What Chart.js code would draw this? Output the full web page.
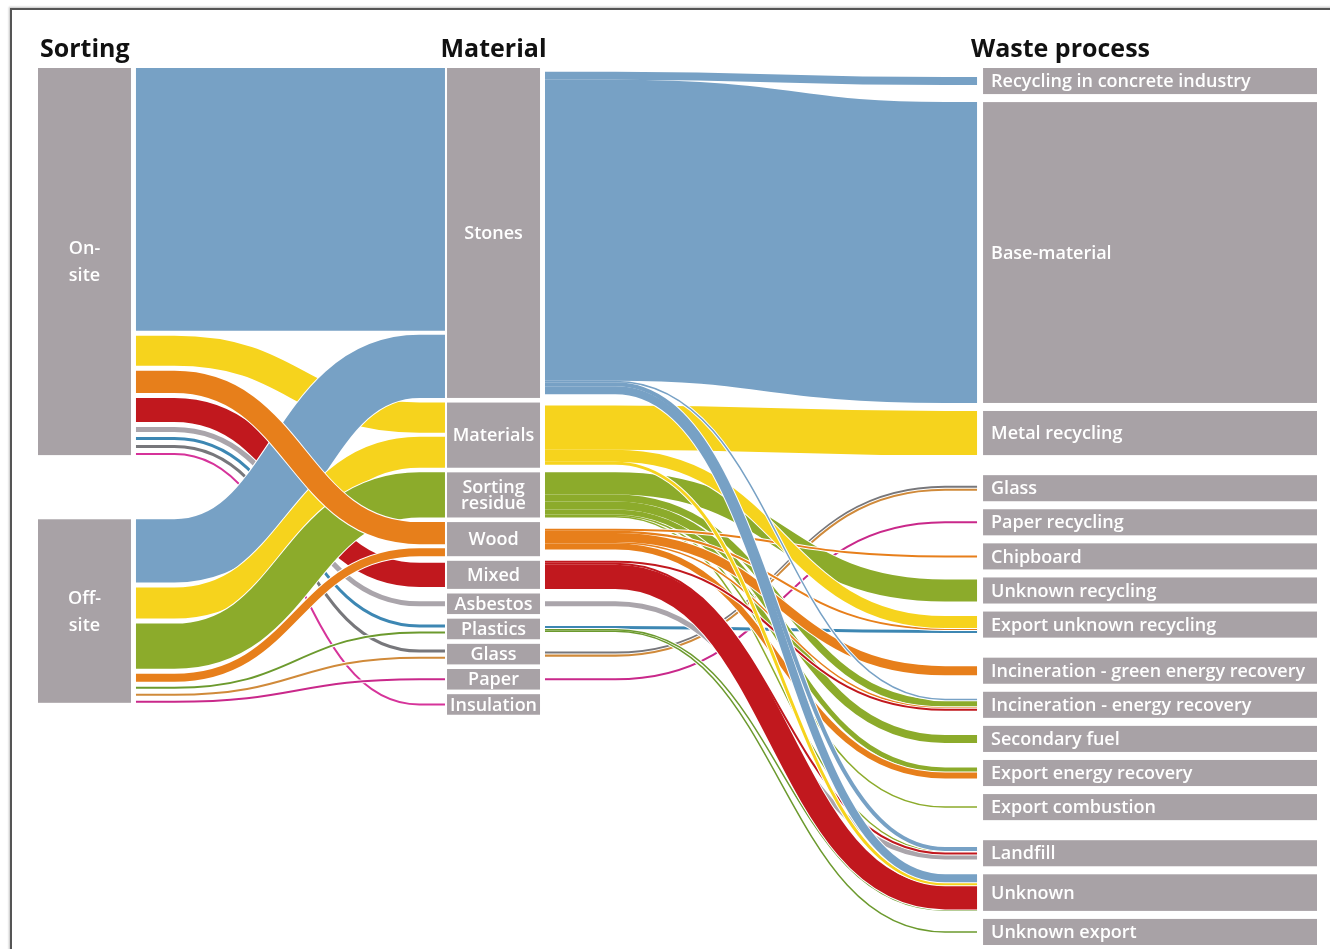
<!DOCTYPE html>
<html>
<head>
<meta charset="utf-8">
<script src="https://cdn.jsdelivr.net/npm/chart.js@4.4.1/dist/chart.umd.min.js"></script>
<style>
    html, body { margin: 0; padding: 0; background: #fff; }
    #wrap { position: relative; width: 1330px; height: 949px; overflow: hidden; }
    #frame {
        position: absolute; left: 10px; top: 8px; right: -4px; bottom: -4px;
        border-top: 2px solid #555; border-left: 2px solid #555;
        box-shadow: -1px -1px 2px rgba(0, 0, 0, 0.25);
    }
    canvas { position: absolute; left: 0; top: 0; }
</style>
</head>
<body>
<div id="wrap">
    <div id="frame"></div>
    <canvas id="chart" width="1330" height="949"></canvas>
</div>
<script>
    const stageTitles = ['Sorting', 'Material', 'Waste process'];
    const sortingNodes = ['On-site', 'Off-site'];
    const materialNodes = [
        'Stones', 'Materials', 'Sorting residue', 'Wood', 'Mixed',
        'Asbestos', 'Plastics', 'Glass', 'Paper', 'Insulation',
    ];
    const processNodes = [
        'Recycling in concrete industry', 'Base-material', 'Metal recycling',
        'Glass', 'Paper recycling', 'Chipboard', 'Unknown recycling', 'Export unknown recycling',
        'Incineration - green energy recovery', 'Incineration - energy recovery', 'Secondary fuel',
        'Export energy recovery', 'Export combustion',
        'Landfill', 'Unknown', 'Unknown export',
    ];
    const processGroups = [
        'Reuse', 'Reuse', 'Reuse',
        'Recycling', 'Recycling', 'Recycling', 'Recycling', 'Recycling',
        'Energy', 'Energy', 'Energy', 'Energy', 'Energy',
        'Disposal', 'Disposal', 'Disposal',
    ];

    // [from, to, amount, stream] - listed in drawing order (later ones on top)
    const sortingFlows = [
        ['On-site', 'Stones', 262, 'Stones'],
        ['On-site', 'Materials', 30, 'Materials'],
        ['On-site', 'Mixed', 24, 'Mixed'],
        ['On-site', 'Asbestos', 5, 'Asbestos'],
        ['On-site', 'Plastics', 3, 'Plastics on-site'],
        ['On-site', 'Glass', 3, 'Glass on-site'],
        ['On-site', 'Insulation', 2, 'Insulation'],
        ['Off-site', 'Stones', 63, 'Stones'],
        ['Off-site', 'Materials', 31, 'Materials'],
        ['Off-site', 'Sorting residue', 45, 'Sorting residue'],
        ['Off-site', 'Plastics', 2, 'Plastics off-site'],
        ['Off-site', 'Glass', 2, 'Glass off-site'],
        ['Off-site', 'Paper', 2, 'Paper'],
        ['On-site', 'Wood', 22, 'Wood'],
        ['Off-site', 'Wood', 8, 'Wood'],
    ];
    const processFlows = [
        ['Glass', 'Glass', 3, 'Glass on-site'],
        ['Glass', 'Glass', 2, 'Glass off-site'],
        ['Paper', 'Paper recycling', 2, 'Paper'],
        ['Plastics', 'Export unknown recycling', 3, 'Plastics on-site'],
        ['Plastics', 'Unknown', 1.5, 'Plastics off-site'],
        ['Plastics', 'Unknown export', 1.5, 'Plastics off-site'],
        ['Asbestos', 'Landfill', 5, 'Asbestos'],
        ['Sorting residue', 'Unknown recycling', 22, 'Sorting residue'],
        ['Sorting residue', 'Incineration - energy recovery', 7, 'Sorting residue'],
        ['Sorting residue', 'Secondary fuel', 8, 'Sorting residue'],
        ['Sorting residue', 'Export energy recovery', 5, 'Sorting residue'],
        ['Sorting residue', 'Export combustion', 1.5, 'Sorting residue'],
        ['Sorting residue', 'Landfill', 1.5, 'Sorting residue'],
        ['Wood', 'Chipboard', 2, 'Wood'],
        ['Wood', 'Export unknown recycling', 2, 'Wood'],
        ['Wood', 'Incineration - green energy recovery', 9, 'Wood'],
        ['Wood', 'Incineration - energy recovery', 1.5, 'Wood'],
        ['Wood', 'Export energy recovery', 6, 'Wood'],
        ['Mixed', 'Incineration - energy recovery', 2, 'Mixed'],
        ['Mixed', 'Landfill', 2, 'Mixed'],
        ['Mixed', 'Unknown', 24, 'Mixed'],
        ['Materials', 'Metal recycling', 44, 'Materials'],
        ['Materials', 'Export unknown recycling', 12, 'Materials'],
        ['Materials', 'Unknown', 3, 'Materials'],
        ['Stones', 'Recycling in concrete industry', 8, 'Stones'],
        ['Stones', 'Base-material', 300, 'Stones'],
        ['Stones', 'Incineration - energy recovery', 1.5, 'Stones'],
        ['Stones', 'Landfill', 4, 'Stones'],
        ['Stones', 'Unknown', 8, 'Stones'],
    ];

    const streamColors = {
        'Stones': '#77a1c5',
        'Materials': '#f6d31d',
        'Sorting residue': '#8cab2b',
        'Wood': '#e77f1b',
        'Mixed': '#c1181e',
        'Asbestos': '#aaa5ab',
        'Plastics on-site': '#3d87b3',
        'Plastics off-site': '#6c9a2e',
        'Glass on-site': '#77777b',
        'Glass off-site': '#d08a3a',
        'Paper': '#c9288a',
        'Insulation': '#d6339a',
    };
    const nodeColor = '#a8a2a6';
    const labelFont = '600 18px "Open Sans"';
    const titleFont = '700 25px "Open Sans"';

    // x positions are in percent of the plot width
    const columns = [
        { names: sortingNodes, left: 0, right: 7.27, gap: 64, minSize: 0, lineHeight: 27, align: 'center' },
        { names: materialNodes, left: 31.98, right: 39.25, gap: 4.6, minSize: 20.5, lineHeight: 16, align: 'center' },
        { names: processNodes, groups: processGroups, left: 73.89, right: 100, gap: 8, groupGap: 20, minSize: 26, lineHeight: 20, align: 'left' },
    ];
    const stages = [
        { flows: sortingFlows, from: 0, to: 1, gapOut: 5, gapIn: 4, startX: 7.66, endX: 31.82, lead: 3, tail: 2 },
        { flows: processFlows, from: 1, to: 2, gapOut: 0, gapIn: 0, startX: 39.64, endX: 73.42, lead: 5.5, tail: 2.5 },
    ];

    const nodes = columns.map((col) => col.names.map((name, index) => ({ name, index, ins: [], outs: [] })));
    const links = [];
    stages.forEach((stage, s) => {
        stage.flows.forEach(([from, to, value, stream]) => {
            const source = nodes[stage.from].find((n) => n.name === from);
            const target = nodes[stage.to].find((n) => n.name === to);
            const link = { stage: s, source, target, value, stream };
            source.outs.push(link);
            target.ins.push(link);
            links.push(link);
        });
    });

    function bandSize(list, gap) {
        return list.reduce((t, l) => t + l.value, 0) + Math.max(0, list.length - 1) * gap;
    }

    let extent = 0;
    columns.forEach((col, c) => {
        const inGap = c > 0 ? stages[c - 1].gapIn : 0;
        const outGap = c < stages.length ? stages[c].gapOut : 0;
        let y = 0;
        nodes[c].forEach((node, i) => {
            node.size = Math.max(bandSize(node.ins, inGap), bandSize(node.outs, outGap), col.minSize);
            if (i > 0) {
                y += col.groups && col.groups[i] !== col.groups[i - 1] ? col.groupGap : col.gap;
            }
            node.y0 = y;
            node.y1 = y + node.size;
            y = node.y1;

            const stack = (list, key, gap, other) => {
                const sorted = list.slice().sort((p, q) => p[other].index - q[other].index);
                let pos = node.y0 + (node.size - bandSize(sorted, gap)) / 2;
                sorted.forEach((l) => {
                    l[key] = pos + l.value / 2;
                    pos += l.value + gap;
                });
            };
            stack(node.ins, 'yIn', inGap, 'source');
            stack(node.outs, 'yOut', outGap, 'target');
        });
        extent = Math.max(extent, y);
    });

    // links leaving one node with the same stream are drawn as one bundle
    const bundles = [];
    links.forEach((l) => {
        let b = bundles.find((g) => g.source === l.source && g.stream === l.stream && g.stage === l.stage);
        if (!b) {
            b = { source: l.source, stream: l.stream, stage: l.stage, links: [] };
            bundles.push(b);
        }
        b.links.push(l);
    });

    function labelLines(ctx, name, c, width) {
        if (c === 0) return name.split(/(?<=-)/);
        if (columns[c].align === 'center' && ctx.measureText(name).width > width - 6 && name.includes(' ')) {
            return name.split(' ');
        }
        return [name];
    }

    const sankeyPlugin = {
        id: 'sankey',
        beforeDatasetsDraw(chart) {
            const { ctx, scales: { x, y }, chartArea } = chart;
            const thick = (v) => Math.abs(y.getPixelForValue(v) - y.getPixelForValue(0));
            const tracePath = (l) => {
                const st = stages[l.stage];
                const x0 = x.getPixelForValue(st.startX);
                const x1 = x.getPixelForValue(st.endX);
                const xa = x.getPixelForValue(st.startX + st.lead);
                const xb = x.getPixelForValue(st.endX - st.tail);
                const y0 = y.getPixelForValue(l.yOut);
                const y1 = y.getPixelForValue(l.yIn);
                const xm = (xa + xb) / 2;
                ctx.beginPath();
                ctx.moveTo(x0, y0);
                ctx.lineTo(xa, y0);
                ctx.bezierCurveTo(xm, y0, xm, y1, xb, y1);
                ctx.lineTo(x1, y1);
            };
            ctx.save();
            ctx.lineCap = 'butt';
            ctx.lineJoin = 'round';
            bundles.forEach((b) => {
                b.links.forEach((l) => {
                    tracePath(l);
                    ctx.strokeStyle = '#ffffff';
                    ctx.lineWidth = thick(l.value) + 2;
                    ctx.stroke();
                });
                b.links.forEach((l) => {
                    tracePath(l);
                    ctx.strokeStyle = streamColors[l.stream];
                    ctx.lineWidth = thick(l.value);
                    ctx.stroke();
                });
            });

            ctx.font = labelFont;
            ctx.textBaseline = 'middle';
            columns.forEach((col, c) => {
                const left = x.getPixelForValue(col.left);
                const right = x.getPixelForValue(col.right);
                nodes[c].forEach((node) => {
                    const top = y.getPixelForValue(node.y0);
                    const bottom = y.getPixelForValue(node.y1);
                    ctx.fillStyle = nodeColor;
                    ctx.fillRect(left, top, right - left, bottom - top);
                    ctx.fillStyle = '#ffffff';
                    const lines = labelLines(ctx, node.name, c, right - left);
                    const mid = (top + bottom) / 2 + 1;
                    lines.forEach((line, k) => {
                        const ly = mid + (k - (lines.length - 1) / 2) * col.lineHeight;
                        const w = ctx.measureText(line).width;
                        const centred = col.align === 'center';
                        const room = centred ? right - left - 6 : right - left - 20;
                        const fit = Math.min(1, room / w);
                        ctx.textAlign = centred ? 'center' : 'left';
                        ctx.save();
                        ctx.translate(centred ? (left + right) / 2 : left + 8, ly);
                        ctx.scale(fit, 1);
                        ctx.fillText(line, 0, 0);
                        ctx.restore();
                    });
                });
            });

            ctx.font = titleFont;
            ctx.fillStyle = '#111111';
            ctx.textBaseline = 'alphabetic';
            const titleY = chartArea.top - 11;
            ctx.textAlign = 'left';
            ctx.fillText(stageTitles[0], x.getPixelForValue(columns[0].left) + 2, titleY);
            ctx.textAlign = 'center';
            ctx.fillText(stageTitles[1], x.getPixelForValue((columns[1].left + columns[1].right) / 2), titleY);
            ctx.textAlign = 'left';
            ctx.fillText(stageTitles[2], x.getPixelForValue(stages[1].endX) - 6, titleY);
            ctx.restore();
        },
    };

    new Chart(document.getElementById('chart'), {
        type: 'scatter',
        data: { datasets: [] },
        options: {
            responsive: false,
            animation: false,
            layout: { padding: { top: 68, bottom: 4, left: 38, right: 13 } },
            scales: {
                x: { type: 'linear', min: 0, max: 100, display: false },
                y: { type: 'linear', min: 0, max: extent, reverse: true, display: false },
            },
            plugins: {
                legend: { display: false },
                tooltip: { enabled: false },
            },
        },
        plugins: [sankeyPlugin],
    });
</script>
</body>
</html>
